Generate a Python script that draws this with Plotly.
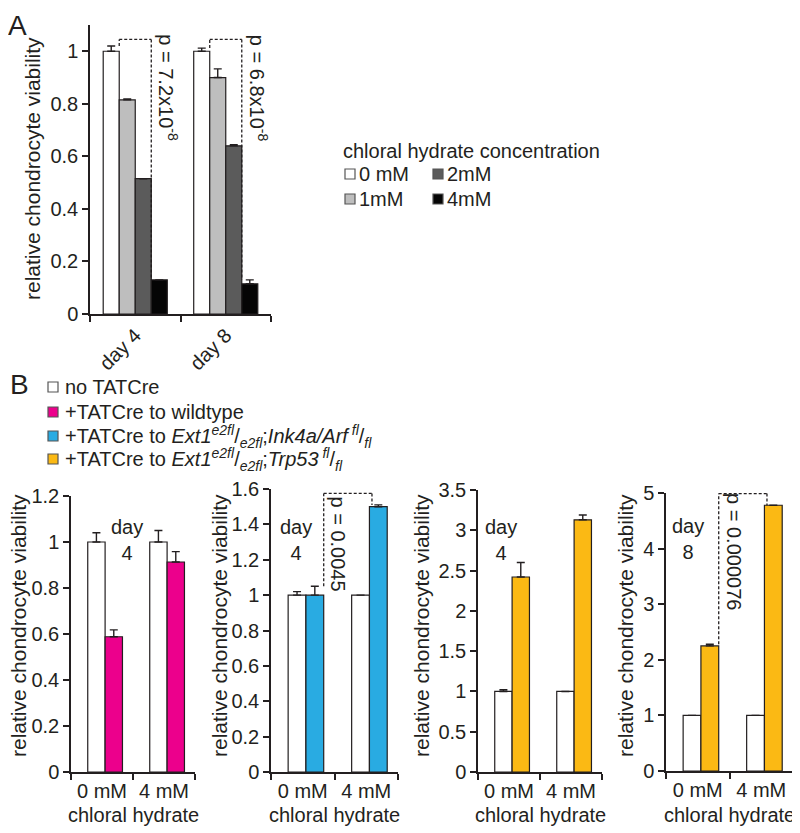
import plotly.graph_objects as go

FONT = "Liberation Sans, Arial, Helvetica, sans-serif"
INK = "#231f20"

# ---------------- Panel A data ----------------
a_days = ["day 4", "day 8"]
a_conc_labels = ["0 mM", "1mM", "2mM", "4mM"]
a_mean_0 = [1.0, 1.0]
a_err_0 = [0.02, 0.012]
a_mean_1 = [0.815, 0.90]
a_err_1 = [0.004, 0.033]
a_mean_2 = [0.515, 0.64]
a_err_2 = [0.0, 0.004]
a_mean_4 = [0.13, 0.115]
a_err_4 = [0.0, 0.015]
a_colors = ["#ffffff", "#bebebe", "#5b5b5b", "#050505"]
a_pvals = ["p = 7.2x10<sup>-8</sup>", "p = 6.8x10<sup>-8</sup>"]

# ---------------- Panel B data ----------------
b_cats = ["0 mM", "4 mM"]
b_legend = [
    "no TATCre",
    "+TATCre to wildtype",
    "+TATCre to <i>Ext1</i><sup><i>e2fl</i></sup>/<sub><i>e2fl</i></sub>;<i>Ink4a/Arf</i><sup><i> fl</i></sup>/<sub><i>fl</i></sub>",
    "+TATCre to <i>Ext1</i><sup><i>e2fl</i></sup>/<sub><i>e2fl</i></sub>;<i>Trp53</i><sup><i> fl</i></sup>/<sub><i>fl</i></sub>",
]
b_colors = ["#ffffff", "#ec008c", "#29abe2", "#fbb914"]

b1_ctrl = [1.0, 1.0]
b1_ctrl_err = [0.04, 0.05]
b1_tat = [0.588, 0.913]
b1_tat_err = [0.03, 0.045]

b2_ctrl = [1.0, 1.0]
b2_ctrl_err = [0.02, 0.0]
b2_tat = [1.0, 1.5]
b2_tat_err = [0.05, 0.01]

b3_ctrl = [1.0, 1.0]
b3_ctrl_err = [0.02, 0.0]
b3_tat = [2.42, 3.13]
b3_tat_err = [0.18, 0.06]

b4_ctrl = [1.0, 1.0]
b4_ctrl_err = [0.0, 0.0]
b4_tat = [2.25, 4.78]
b4_tat_err = [0.03, 0.0]

b_days = ["day<br>4", "day<br>4", "day<br>4", "day<br>8"]
b_tat_color_idx = [1, 2, 3, 3]
b_ymax = [1.2, 1.6, 3.5, 5]
b_dtick = [0.2, 0.2, 0.5, 1]

# the page body has an 8px margin: shrink the figure and shift coordinates
OFF = 8
W, H = 800 - OFF, 833 - OFF


def px(x):
    return (x - OFF) / W


def py(y):
    return 1 - (y - OFF) / H


fig = go.Figure()

AW = 0.177  # panel A bar width (category units)
a_means = [a_mean_0, a_mean_1, a_mean_2, a_mean_4]
a_errs = [a_err_0, a_err_1, a_err_2, a_err_4]
for i in range(4):
    fig.add_trace(go.Bar(
        x=a_days, y=a_means[i], name=a_conc_labels[i],
        width=AW, offset=-2 * AW + i * AW,
        marker=dict(color=a_colors[i], line=dict(color=INK, width=1.2)),
        error_y=dict(type="data", symmetric=False, array=a_errs[i],
                     arrayminus=[0] * len(a_errs[i]), color=INK, thickness=1.4, width=4),
        xaxis="x", yaxis="y", showlegend=False,
    ))

BW = 0.28
B_SHIFT = 0.05
b_ctrls = [b1_ctrl, b2_ctrl, b3_ctrl, b4_ctrl]
b_ctrl_errs = [b1_ctrl_err, b2_ctrl_err, b3_ctrl_err, b4_ctrl_err]
b_tats = [b1_tat, b2_tat, b3_tat, b4_tat]
b_tat_errs = [b1_tat_err, b2_tat_err, b3_tat_err, b4_tat_err]
for k in range(4):
    ax = str(k + 2)
    fig.add_trace(go.Bar(
        x=b_cats, y=b_ctrls[k], width=BW, offset=-BW + B_SHIFT,
        marker=dict(color=b_colors[0], line=dict(color=INK, width=1.2)),
        error_y=dict(type="data", symmetric=False, array=b_ctrl_errs[k],
                     arrayminus=[0, 0], color=INK, thickness=1.4, width=4),
        xaxis="x" + ax, yaxis="y" + ax, showlegend=False,
    ))
    fig.add_trace(go.Bar(
        x=b_cats, y=b_tats[k], width=BW, offset=B_SHIFT,
        marker=dict(color=b_colors[b_tat_color_idx[k]], line=dict(color=INK, width=1.2)),
        error_y=dict(type="data", symmetric=False, array=b_tat_errs[k],
                     arrayminus=[0, 0], color=INK, thickness=1.4, width=4),
        xaxis="x" + ax, yaxis="y" + ax, showlegend=False,
    ))

tickfont = dict(family=FONT, size=20, color=INK)
axis_common = dict(showline=True, linecolor=INK, linewidth=1.5, ticks="outside",
                   ticklen=6, tickwidth=1.5, tickcolor=INK, showgrid=False,
                   zeroline=False, tickfont=tickfont, fixedrange=True, automargin=False)

# pixel layout of the axes in the reference (left, right, bottom, top)
a_box = (90, 271, 314, 25)
b_boxes = [(71, 195, 772, 496), (271, 398, 772, 489), (478, 602, 772, 490), (666, 793, 771, 493)]

layout = dict(
    template="none",
    width=W, height=H, margin=dict(l=0, r=0, t=0, b=0, autoexpand=False),
    paper_bgcolor="white", plot_bgcolor="rgba(0,0,0,0)",
    barmode="overlay", font=dict(family=FONT, color=INK),
    xaxis=dict(domain=[px(a_box[0]), px(a_box[1])], anchor="y", type="category",
               tickson="boundaries", tickangle=-45, range=[-0.5, 1.5], **axis_common),
    yaxis=dict(domain=[py(a_box[2]), py(a_box[3])], anchor="x", range=[0, 1.1],
               tickvals=[0, 0.2, 0.4, 0.6, 0.8, 1], ticktext=["0", "0.2", "0.4", "0.6", "0.8", "1"],
               **axis_common),
)
for k, (l, r, b, t) in enumerate(b_boxes):
    n = str(k + 2)
    layout["xaxis" + n] = dict(domain=[px(l), px(r)], anchor="y" + n, type="category",
                               tickson="boundaries", range=[-0.5, 1.5], **axis_common)
    layout["yaxis" + n] = dict(domain=[py(b), py(t)], anchor="x" + n,
                               range=[0, b_ymax[k]], dtick=b_dtick[k], tick0=0, **axis_common)
fig.update_layout(**layout)

ann = []
shapes = []
dash = dict(color=INK, width=1.3, dash="3px,2px")


def text(t, x, y, xref="paper", yref="paper", size=20, angle=0, xa="center", ya="middle"):
    ann.append(dict(text=t, x=x, y=y, xref=xref, yref=yref, textangle=angle,
                    xanchor=xa, yanchor=ya, showarrow=False,
                    font=dict(family=FONT, size=size, color=INK)))


# panel labels
text("A", px(6), 1.0, size=28, xa="left", ya="top")
text("B", px(8), py(384), size=28, xa="left")

# axis titles
ytitle = "relative chondrocyte viability"
text(ytitle, px(32), py(169), size=21, angle=-90)
for k, (xc, yc) in enumerate([(18, 626), (219, 626), (421, 626), (625, 626)]):
    text(ytitle, px(xc), py(yc), size=21, angle=-90)
    text("chloral hydrate", 0.5, py(815), xref="x%d domain" % (k + 2))
    text(b_days[k], [0.4, -0.1, -0.13, -0.16][k], [1.01, 1.31, 2.88, 4.17][k],
         xref="x%d" % (k + 2), yref="y%d" % (k + 2))

# panel A brackets and p-values
for d in range(2):
    left_x = d - AW
    right_x = d + AW
    top = 1.045
    shapes.append(dict(type="line", xref="x", yref="y", x0=left_x, x1=left_x,
                       y0=a_mean_0[d] + a_err_0[d], y1=top, line=dash))
    shapes.append(dict(type="line", xref="x", yref="y", x0=left_x, x1=right_x,
                       y0=top, y1=top, line=dash))
    shapes.append(dict(type="line", xref="x", yref="y", x0=right_x, x1=right_x,
                       y0=top, y1=a_mean_4[d] + a_err_4[d], line=dash))
    text(a_pvals[d], d + 0.37, 0.86, xref="x", yref="y", angle=90)

# panel B brackets (panels 2 and 4)
for k, top, ptxt, py_ in [(1, 1.575, "p = 0.0045", 1.29), (3, 4.99, "p = 0.000076", 3.95)]:
    xr, yr = "x%d" % (k + 2), "y%d" % (k + 2)
    lx = BW + B_SHIFT
    rx = 1 + B_SHIFT + 0.04
    shapes.append(dict(type="line", xref=xr, yref=yr, x0=lx, x1=lx,
                       y0=b_tats[k][0] + b_tat_errs[k][0], y1=top, line=dash))
    shapes.append(dict(type="line", xref=xr, yref=yr, x0=lx, x1=rx, y0=top, y1=top, line=dash))
    shapes.append(dict(type="line", xref=xr, yref=yr, x0=rx, x1=rx, y0=top,
                       y1=b_tats[k][1] + b_tat_errs[k][1], line=dash))
    text(ptxt, 0.56, py_, xref=xr, yref=yr, angle=90)

# legend A
text("chloral hydrate concentration", px(341), py(151), size=20, xa="left")
a_leg_pos = [(345, 174), (345, 199), (433, 174), (433, 199)]
for i, (lx, ly) in enumerate(a_leg_pos):
    shapes.append(dict(type="rect", xref="paper", yref="paper", x0=px(lx), x1=px(lx + 10),
                       y0=py(ly + 5), y1=py(ly - 5), fillcolor=a_colors[i],
                       line=dict(color="#555", width=1.2)))
    text(a_conc_labels[i], px(lx + 12), py(ly), size=20, xa="left")

# legend B
b_leg_y = [387, 412, 436, 459]
for i, ly in enumerate(b_leg_y):
    shapes.append(dict(type="rect", xref="paper", yref="paper", x0=px(48), x1=px(58),
                       y0=py(ly + 5), y1=py(ly - 5), fillcolor=b_colors[i],
                       line=dict(color="#555", width=1.2)))
    text(b_legend[i], px(63), py(ly), xa="left")

fig.update_layout(annotations=ann, shapes=shapes)
fig.write_html("out.html")
